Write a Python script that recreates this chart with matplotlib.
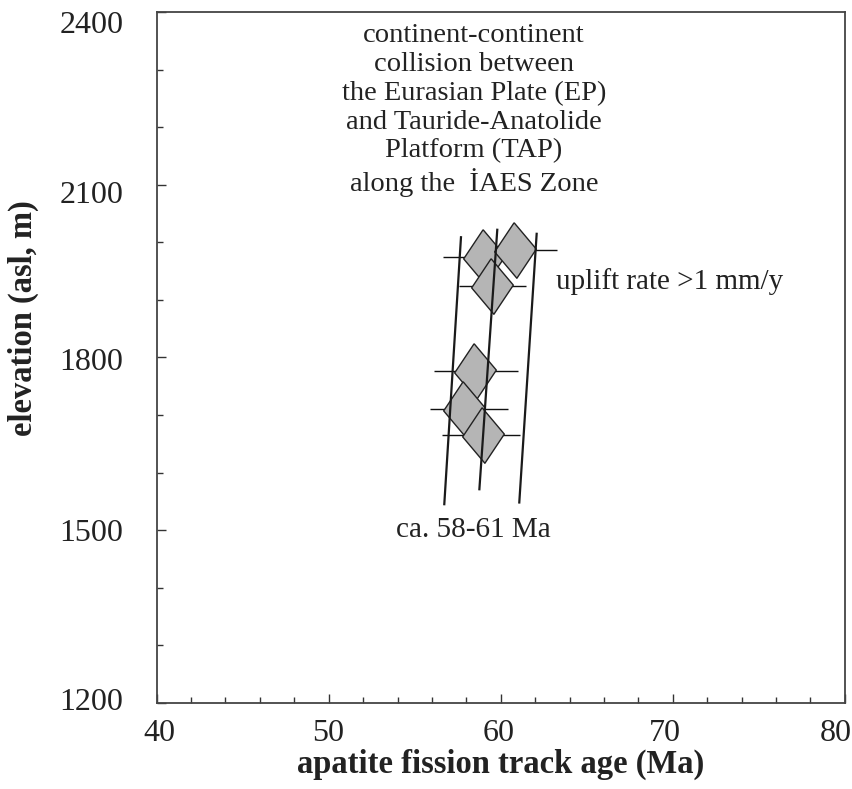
import matplotlib
matplotlib.use("Agg")
import matplotlib.pyplot as plt
from matplotlib.transforms import ScaledTranslation


# Sample ages (Ma) with asymmetric 1-sigma errors and elevations (m a.s.l.)
age = [59.0, 60.85, 59.5, 58.5, 57.85, 58.95]
age_err_lo = [2.34, 2.23, 1.90, 2.38, 1.94, 2.34]
age_err_hi = [2.34, 2.42, 1.99, 2.50, 2.60, 2.19]
elevation = [1975, 1987, 1924, 1776, 1710, 1666]

# Three guide lines (start / end points)
line_top_age = [57.69, 59.80, 62.09]
line_top_elev = [2009, 2022, 2015]
line_bot_age = [56.72, 58.76, 61.08]
line_bot_elev = [1545, 1571, 1548]

x_ticks = [40, 50, 60, 70, 80]
y_ticks = [1200, 1500, 1800, 2100, 2400]

note_text = ("continent-continent\ncollision between\nthe Eurasian Plate (EP)\n"
             "and Tauride-Anatolide\nPlatform (TAP)\nalong the  İAES Zone")

FONT = ["Liberation Serif", "DejaVu Serif"]
plt.rcParams["font.family"] = FONT

fig = plt.figure(figsize=(8.53, 7.89), dpi=100)
ax = fig.add_axes([0.1837, 0.1094, 0.8066, 0.875])

# error bars behind the diamonds
ax.errorbar(age, elevation, xerr=[age_err_lo, age_err_hi], fmt="none",
            ecolor="#111111", elinewidth=1.0, capsize=0, zorder=1)

# slightly skewed diamond marker
diamond = [(-0.05, 1.0), (0.75, 0.05), (0.05, -1.0), (-0.75, -0.05), (-0.05, 1.0)]
for i in range(len(age)):
    ax.plot(age[i], elevation[i], marker=diamond, markersize=40,
            markerfacecolor="#b5b5b5", markeredgecolor="#222222",
            markeredgewidth=1.0, linestyle="none", zorder=2 + i * 0.01)

for i in range(len(line_top_age)):
    ax.plot([line_bot_age[i], line_top_age[i]], [line_bot_elev[i], line_top_elev[i]],
            color="#1a1a1a", linewidth=1.6, zorder=3)

ax.text(58.45, 2230, note_text, ha="center", va="center", fontsize=20.5,
        linespacing=1.2, color="#222222")
ax.text(69.8, 1932, "uplift rate >1 mm/y", ha="center", va="center",
        fontsize=21, color="#222222")
ax.text(58.4, 1500, "ca. 58-61 Ma", ha="center", va="center",
        fontsize=21, color="#222222")

ax.set_xlim(40, 80)
ax.set_ylim(1200, 2400)
ax.set_xticks(x_ticks)
ax.set_yticks(y_ticks)
ax.set_xticks(range(40, 81, 2), minor=True)
ax.set_yticks(range(1200, 2401, 100), minor=True)
ax.tick_params(which="both", direction="in", top=False, right=False,
               colors="#333333", labelcolor="#222222", labelsize=23)
ax.tick_params(which="major", length=6.5, width=1.0)
ax.tick_params(which="minor", length=4.3, width=1.0)
ax.tick_params(axis="y", pad=24)
ax.tick_params(axis="x", pad=12)

# the original labels sit a little off their ticks
x_shift = [3, -1, -2, -8, -9]
y_shift = [4, 0, -2, -7, -10]
for tick, dx in zip(ax.xaxis.get_major_ticks(), x_shift):
    tick.label1.set_transform(tick.label1.get_transform()
                              + ScaledTranslation(dx / 100, 0, fig.dpi_scale_trans))
for tick, dy in zip(ax.yaxis.get_major_ticks(), y_shift):
    tick.label1.set_transform(tick.label1.get_transform()
                              + ScaledTranslation(0, dy / 100, fig.dpi_scale_trans))

for s in ax.spines.values():
    s.set_color("#444444")
    s.set_linewidth(1.3)

ax.set_xlabel("apatite fission track age (Ma)", fontsize=23.5, fontweight="bold",
              color="#222222", va="center")
ax.set_ylabel("elevation (asl, m)", fontsize=23.5, fontweight="bold",
              color="#222222", va="center")
ax.xaxis.set_label_coords(0.5, -0.09)
ax.yaxis.set_label_coords(-0.194, 0.557)

fig.savefig("out.png", dpi=100)
